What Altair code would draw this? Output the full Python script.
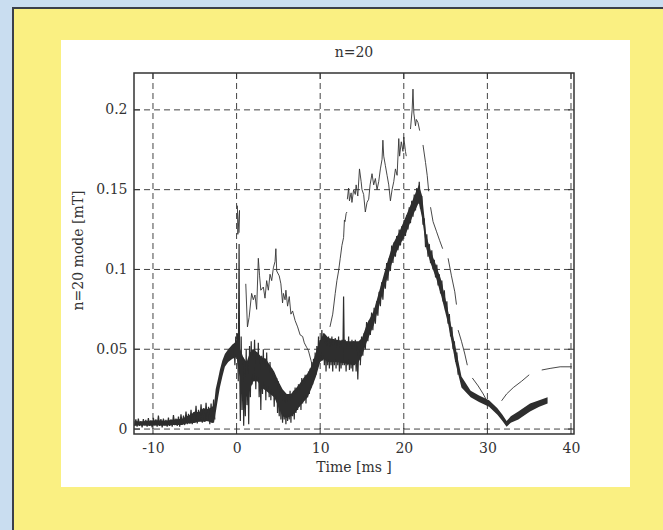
import altair as alt
import pandas as pd

W, H = 440, 361
XMIN, XMAX = -12.27, 40.36
YMIN, YMAX = -0.0031, 0.2231
FONT = "DejaVu Serif"
FS = 14
INK = "#333333"

# ---- heavy (thick) trace: envelope of the noisy band ----
band_x = [-12.2, -11.5, -10.5, -9.5, -8.5, -7.5, -6.5, -6.0, -5.5, -5.0, -4.5, -4.0, -3.5, -3.0, -2.7,
          -2.5, -2.2, -2.0, -1.7, -1.4, -1.0, -0.5, 0.0, 0.3, 0.8, 1.2, 1.6, 2.0, 2.5, 3.0, 3.5, 4.0,
          4.5, 5.0, 5.5, 6.0, 6.5, 7.0, 7.5, 8.0, 8.5, 9.0, 9.5, 10.0, 10.5, 11.0, 12.0, 13.0, 14.0,
          14.6, 15.0, 15.6, 16.4, 17.2, 18.0, 18.7, 19.5, 20.3, 21.1, 21.8, 22.2, 22.7, 23.2, 23.9,
          24.5, 25.3, 26.2, 26.9, 28.0, 29.0, 30.2, 31.2, 31.8, 32.3, 32.8, 33.7, 35.1, 36.2, 37.2]
band_lo = [0.0020, 0.0022, 0.0020, 0.0022, 0.0020, 0.0025, 0.0025, 0.0035, 0.0035, 0.0040, 0.0045, 0.0045, 0.0050, 0.0040, 0.0040,
           0.0100, 0.0200, 0.0260, 0.0330, 0.0390, 0.0420, 0.0440, 0.0450, 0.0350, 0.0250, 0.0200, 0.0250, 0.0300, 0.0300, 0.0260, 0.0240, 0.0220,
           0.0200, 0.0140, 0.0080, 0.0070, 0.0080, 0.0100, 0.0140, 0.0170, 0.0200, 0.0260, 0.0330, 0.0420, 0.0440, 0.0420, 0.0420, 0.0410, 0.0400,
           0.0420, 0.0460, 0.0550, 0.0650, 0.0800, 0.0940, 0.1060, 0.1150, 0.1230, 0.1340, 0.1420, 0.1320, 0.1130, 0.1040, 0.0940,
           0.0830, 0.0660, 0.0410, 0.0260, 0.0200, 0.0170, 0.0140, 0.0090, 0.0050, 0.0015, 0.0040, 0.0060, 0.0110, 0.0140, 0.0160]
band_hi = [0.0050, 0.0048, 0.0052, 0.0055, 0.0052, 0.0060, 0.0065, 0.0080, 0.0090, 0.0110, 0.0105, 0.0130, 0.0125, 0.0135, 0.0150,
           0.0250, 0.0320, 0.0370, 0.0430, 0.0470, 0.0500, 0.0530, 0.0550, 0.0520, 0.0450, 0.0420, 0.0480, 0.0500, 0.0480, 0.0450, 0.0440, 0.0400,
           0.0360, 0.0300, 0.0250, 0.0220, 0.0220, 0.0250, 0.0280, 0.0320, 0.0350, 0.0400, 0.0480, 0.0560, 0.0600, 0.0570, 0.0560, 0.0550, 0.0550,
           0.0550, 0.0570, 0.0660, 0.0740, 0.0890, 0.1040, 0.1160, 0.1240, 0.1340, 0.1440, 0.1530, 0.1460, 0.1210, 0.1120, 0.1020,
           0.0930, 0.0740, 0.0510, 0.0330, 0.0240, 0.0210, 0.0180, 0.0130, 0.0090, 0.0050, 0.0080, 0.0110, 0.0160, 0.0180, 0.0200]

# ---- heavy trace: low-level noise before the rise, read point by point ----
lead_x = [-12.2, -12.05, -11.9, -11.75, -11.6, -11.45, -11.3, -11.15, -11.0, -10.85, -10.7, -10.55, -10.4, -10.25,
          -10.1, -9.95, -9.8, -9.65, -9.5, -9.35, -9.2, -9.05, -8.9, -8.75, -8.6, -8.45, -8.3, -8.15, -8.0, -7.85,
          -7.7, -7.55, -7.4, -7.25, -7.1, -6.95, -6.8, -6.65, -6.5, -6.35, -6.2, -6.05, -5.9, -5.75, -5.6, -5.45,
          -5.3, -5.15, -5.0, -4.85, -4.7, -4.55, -4.4, -4.25, -4.1, -3.95, -3.8, -3.65, -3.5, -3.35, -3.2, -3.05,
          -2.9, -2.75, -2.6]
lead_y = [0.0020, 0.0060, 0.0015, 0.0065, 0.0020, 0.0050, 0.0010, 0.0062, 0.0025, 0.0058, 0.0015, 0.0068, 0.0020, 0.0055,
          0.0010, 0.0070, 0.0025, 0.0060, 0.0015, 0.0085, 0.0020, 0.0062, 0.0010, 0.0066, 0.0025, 0.0058, 0.0015, 0.0072, 0.0020, 0.0060,
          0.0015, 0.0088, 0.0025, 0.0065, 0.0020, 0.0078, 0.0015, 0.0092, 0.0030, 0.0085, 0.0025, 0.0110, 0.0030, 0.0095, 0.0035, 0.0120,
          0.0030, 0.0105, 0.0040, 0.0145, 0.0035, 0.0120, 0.0050, 0.0155, 0.0040, 0.0130, 0.0045, 0.0165, 0.0050, 0.0140, 0.0030, 0.0160,
          0.0040, 0.0185, 0.0060]

# ---- heavy trace: the spiky, noisy stretch read point by point ----
zig_x = [-0.3, -0.2, -0.1, 0.0, 0.1, 0.2, 0.3, 0.35, 0.45, 0.55, 0.65, 0.75, 0.85, 0.95, 1.05, 1.15, 1.25, 1.35,
         1.45, 1.55, 1.65, 1.75, 1.85, 1.95, 2.05, 2.15, 2.3, 2.4, 2.5, 2.6, 2.7, 2.8, 2.9, 3.0, 3.1, 3.2, 3.3,
         3.4, 3.5, 3.6, 3.7, 3.8, 3.9, 4.0, 4.1, 4.2, 4.3, 4.4, 4.5, 4.6, 4.7, 4.8, 4.9, 5.0, 5.1, 5.2, 5.3,
         5.4, 5.5, 5.6, 5.7, 5.8, 5.9, 6.0, 6.1, 6.2, 6.3, 6.4, 6.5, 6.6, 6.7, 6.8, 6.9, 7.0, 7.1, 7.2, 7.3,
         7.4, 7.5, 7.6, 7.7, 7.8, 7.9, 8.0, 8.1, 8.2, 8.3, 8.4, 8.5, 8.6, 8.7, 8.8, 8.9, 9.0, 9.1, 9.2, 9.3,
         9.4, 9.5, 9.6, 9.7, 9.8, 9.9, 10.0, 10.1, 10.2, 10.3, 10.4, 10.5, 10.6, 10.7, 10.8, 10.9, 11.0, 11.1,
         11.2, 11.3, 11.4, 11.5, 11.6, 11.7, 11.8, 11.9, 12.0, 12.1, 12.2, 12.3, 12.4, 12.5, 12.6, 12.7, 12.8,
         12.9, 13.0, 13.1, 13.2, 13.3, 13.4, 13.5, 13.6, 13.7, 13.8, 13.9, 14.0, 14.1, 14.2, 14.3, 14.4, 14.5,
         14.6, 14.8]
zig_y = [0.052, 0.040, 0.058, 0.045, 0.060, 0.030, 0.116, 0.050, 0.005, 0.058, 0.012, 0.045, 0.002, 0.035, 0.008, 0.050, 0.015, 0.040,
         0.003, 0.052, 0.020, 0.055, 0.028, 0.050, 0.030, 0.056, 0.025, 0.048, 0.030, 0.054, 0.020, 0.045, 0.012, 0.046, 0.022, 0.050, 0.025,
         0.044, 0.018, 0.048, 0.024, 0.040, 0.020, 0.042, 0.018, 0.038, 0.022, 0.036, 0.014, 0.033, 0.020, 0.032, 0.010, 0.030, 0.008, 0.026, 0.006,
         0.024, 0.004, 0.022, 0.006, 0.020, 0.003, 0.022, 0.005, 0.020, 0.006, 0.024, 0.004, 0.022, 0.008, 0.024, 0.006, 0.026, 0.010, 0.025, 0.012,
         0.028, 0.014, 0.027, 0.012, 0.032, 0.016, 0.030, 0.018, 0.034, 0.016, 0.033, 0.020, 0.036, 0.022, 0.038, 0.026, 0.042, 0.028, 0.044, 0.032,
         0.048, 0.034, 0.052, 0.040, 0.058, 0.042, 0.056, 0.044, 0.062, 0.043, 0.060, 0.040, 0.058, 0.036, 0.056, 0.040, 0.058, 0.038,
         0.054, 0.040, 0.058, 0.036, 0.056, 0.040, 0.057, 0.038, 0.055, 0.040, 0.058, 0.036, 0.055, 0.038, 0.056, 0.040, 0.083,
         0.040, 0.056, 0.036, 0.055, 0.040, 0.058, 0.037, 0.054, 0.038, 0.056, 0.036, 0.055, 0.040, 0.056, 0.036, 0.052, 0.031,
         0.050, 0.045]

# ---- heavy trace: ragged edges of the ramp up to the peak and down again ----
ramp_x = [14.8, 14.95, 15.1, 15.25, 15.4, 15.55, 15.7, 15.85, 16.0, 16.15, 16.3, 16.45, 16.6, 16.75, 16.9, 17.05,
          17.2, 17.35, 17.5, 17.65, 17.8, 17.95, 18.1, 18.25, 18.4, 18.55, 18.7, 18.85, 19.0, 19.15, 19.3, 19.45,
          19.6, 19.75, 19.9, 20.05, 20.2, 20.35, 20.5, 20.65, 20.8, 20.95, 21.1, 21.25, 21.4, 21.55, 21.7, 21.85,
          22.0, 22.15, 22.3, 22.45, 22.6, 22.75, 22.9, 23.05, 23.2, 23.35, 23.5, 23.65, 23.8, 23.95, 24.1, 24.25,
          24.4, 24.55, 24.7, 24.85, 25.0, 25.15, 25.3, 25.45, 25.6, 25.75, 25.9, 26.05, 26.2, 26.35, 26.5]
ramp_y = [0.040, 0.058, 0.046, 0.060, 0.050, 0.067, 0.055, 0.068, 0.059, 0.073, 0.062, 0.076, 0.066, 0.080, 0.071, 0.086,
          0.077, 0.092, 0.081, 0.095, 0.088, 0.104, 0.093, 0.107, 0.099, 0.115, 0.104, 0.117, 0.108, 0.121, 0.112, 0.125,
          0.115, 0.127, 0.118, 0.131, 0.121, 0.134, 0.125, 0.139, 0.129, 0.143, 0.133, 0.147, 0.137, 0.151, 0.141, 0.155,
          0.138, 0.146, 0.128, 0.132, 0.114, 0.122, 0.108, 0.116, 0.104, 0.112, 0.100, 0.106, 0.095, 0.103, 0.090, 0.097,
          0.085, 0.093, 0.080, 0.087, 0.074, 0.080, 0.066, 0.072, 0.058, 0.064, 0.050, 0.055, 0.042, 0.048, 0.034]

# ---- light (thin, broken) trace: one list per unbroken piece ----
thin_x_parts = [
    [0.10, 0.15, 0.35, 0.30],
    [1.10, 1.30, 1.50, 1.80, 2.00, 2.20, 2.40, 2.60, 2.75, 2.90, 3.20, 3.40, 3.60, 3.80, 4.00, 4.20, 4.40, 4.60, 4.70, 4.80, 5.10,
     5.30, 5.50, 5.60, 5.80, 5.90, 6.10, 6.30, 6.50, 6.70, 7.00, 7.30, 7.60, 7.90, 8.10, 8.40, 8.60, 8.90, 9.05],
    [11.17, 11.50, 11.80, 12.00, 12.20, 12.40, 12.60, 12.80, 12.90, 12.97, 13.10, 13.20],
    [13.25, 13.40, 13.50, 13.70, 13.80, 14.00, 14.20, 14.30, 14.50, 14.70, 14.90, 15.00, 15.20, 15.40, 15.60, 15.80, 15.97, 16.20,
     16.40, 16.60, 16.80, 17.00, 17.20, 17.40, 17.50, 17.60, 17.80, 18.00, 18.20, 18.40, 18.60, 18.80, 19.00, 19.20, 19.40, 19.50,
     19.70, 19.90, 20.00, 20.20, 20.30],
    [20.80, 21.00, 21.10, 21.20, 21.40, 21.50, 21.70, 21.90],
    [22.30, 22.60, 22.80, 22.98],
    [23.20, 23.50, 23.90, 24.30, 24.65],
    [25.30, 25.70, 26.10, 26.30],
    [26.50, 26.90, 27.30, 27.60],
    [28.20, 28.90, 29.50, 29.90],
    [31.70, 32.30, 33.10, 34.10, 35.00],
    [36.50, 37.50, 38.70, 40.10],
]
thin_y_parts = [
    [0.140, 0.122, 0.137, 0.123],
    [0.091, 0.064, 0.070, 0.085, 0.081, 0.084, 0.075, 0.107, 0.096, 0.087, 0.089, 0.082, 0.093, 0.087, 0.097, 0.093, 0.101, 0.105, 0.113, 0.099, 0.096,
     0.091, 0.079, 0.085, 0.081, 0.087, 0.077, 0.083, 0.072, 0.074, 0.068, 0.064, 0.059, 0.058, 0.054, 0.051, 0.049, 0.043, 0.040],
    [0.064, 0.072, 0.085, 0.093, 0.099, 0.107, 0.115, 0.120, 0.131, 0.130, 0.135, 0.136],
    [0.144, 0.151, 0.143, 0.148, 0.142, 0.150, 0.147, 0.153, 0.146, 0.163, 0.155, 0.150, 0.147, 0.136, 0.142, 0.144, 0.153, 0.160,
     0.153, 0.157, 0.150, 0.155, 0.163, 0.169, 0.181, 0.171, 0.165, 0.159, 0.153, 0.143, 0.150, 0.155, 0.163, 0.159, 0.182, 0.171,
     0.180, 0.174, 0.183, 0.174, 0.171],
    [0.188, 0.200, 0.213, 0.198, 0.190, 0.194, 0.192, 0.187],
    [0.178, 0.167, 0.159, 0.149],
    [0.139, 0.130, 0.124, 0.118, 0.113],
    [0.107, 0.096, 0.086, 0.078],
    [0.062, 0.055, 0.047, 0.040],
    [0.032, 0.027, 0.022, 0.018],
    [0.0177, 0.022, 0.026, 0.030, 0.034],
    [0.037, 0.038, 0.039, 0.039],
]

x_ticks = [-10, 0, 10, 20, 30, 40]
y_ticks = [0, 0.05, 0.1, 0.15, 0.2]

band_df = pd.DataFrame({"x": band_x, "lo": band_lo, "hi": band_hi})
noise_df = pd.concat([
    pd.DataFrame({"x": lead_x, "y": lead_y, "part": "lead"}),
    pd.DataFrame({"x": zig_x, "y": zig_y, "part": "zig"}),
    pd.DataFrame({"x": ramp_x, "y": ramp_y, "part": "ramp"}),
], ignore_index=True)
noise_df["i"] = range(len(noise_df))
rows = []
for s, (px, py) in enumerate(zip(thin_x_parts, thin_y_parts)):
    for k, (a, b) in enumerate(zip(px, py)):
        rows.append({"seg": s, "i": k, "x": a, "y": b})
thin_df = pd.DataFrame(rows)
xt_df = pd.DataFrame({"v": x_ticks})
yt_df = pd.DataFrame({"v": y_ticks})
one = pd.DataFrame({"d": [0]})

xs = alt.Scale(domain=[XMIN, XMAX], nice=False, zero=False)
ys = alt.Scale(domain=[YMIN, YMAX], nice=False, zero=False)

xaxis = alt.Axis(values=x_ticks, grid=False, ticks=False, domain=False, title=None,
                 labelExpr="datum.value + ''",
                 labelFont=FONT, labelFontSize=FS, labelColor=INK, labelPadding=7, zindex=1)
yaxis = alt.Axis(values=y_ticks, grid=False, ticks=False, domain=False, title=None,
                 labelExpr="datum.value + ''",
                 labelFont=FONT, labelFontSize=FS, labelColor=INK, labelPadding=7, zindex=1)


def X(f):
    return alt.X(f, scale=xs, axis=xaxis, title=None)


def Y(f):
    return alt.Y(f, scale=ys, axis=yaxis, title=None)


# page decoration
border = alt.Chart(one).mark_rect(color="#3A3F4A").encode(
    x=alt.value(-122), x2=alt.value(560), y=alt.value(-66), y2=alt.value(480))
yellow = alt.Chart(one).mark_rect(color="#FAF082").encode(
    x=alt.value(-120), x2=alt.value(560), y=alt.value(-64), y2=alt.value(480))
white = alt.Chart(one).mark_rect(color="#FFFFFF").encode(
    x=alt.value(-73), x2=alt.value(496), y=alt.value(-33), y2=alt.value(414))

# dashed grid
gx = alt.Chart(xt_df).mark_rule(color="#444444", strokeDash=[6, 4], strokeWidth=1).encode(
    x=X("v:Q"), y=alt.value(0), y2=alt.value(H))
gy = alt.Chart(yt_df).mark_rule(color="#444444", strokeDash=[6, 4], strokeWidth=1).encode(
    y=Y("v:Q"), x=alt.value(0), x2=alt.value(W))

# inward ticks on all four sides
tb = alt.Chart(xt_df).mark_rule(color=INK, strokeWidth=1).encode(
    x=X("v:Q"), y=alt.value(H), y2=alt.value(H - 6))
tt = alt.Chart(xt_df).mark_rule(color=INK, strokeWidth=1).encode(
    x=X("v:Q"), y=alt.value(0), y2=alt.value(6))
tl = alt.Chart(yt_df).mark_rule(color=INK, strokeWidth=1).encode(
    y=Y("v:Q"), x=alt.value(0), x2=alt.value(6))
tr = alt.Chart(yt_df).mark_rule(color=INK, strokeWidth=1).encode(
    y=Y("v:Q"), x=alt.value(W), x2=alt.value(W - 6))

band = alt.Chart(band_df).mark_area(color="#2E2E2E", opacity=1, clip=True).encode(
    x=X("x:Q"), y=Y("lo:Q"), y2="hi:Q")
noise = alt.Chart(noise_df).mark_line(color="#2E2E2E", strokeWidth=1.2, clip=True).encode(
    x=X("x:Q"), y=Y("y:Q"), detail="part:N", order="i:Q")
thin = alt.Chart(thin_df).mark_line(color=INK, strokeWidth=0.9, clip=True).encode(
    x=X("x:Q"), y=Y("y:Q"), detail="seg:N", order="i:Q")

frame = alt.Chart(one).mark_rect(filled=False, stroke=INK, strokeWidth=1.5).encode(
    x=alt.value(0), x2=alt.value(W), y=alt.value(0), y2=alt.value(H))

title = alt.Chart(one).mark_text(text="n=20", font=FONT, fontSize=FS, color=INK,
                                 align="center", baseline="middle").encode(
    x=alt.value(W / 2), y=alt.value(-20))
xtitle = alt.Chart(one).mark_text(text="Time [ms ]", font=FONT, fontSize=FS, color=INK,
                                  align="center", baseline="middle").encode(
    x=alt.value(W / 2), y=alt.value(H + 34))
ytitle = alt.Chart(one).mark_text(text="n=20 mode [mT]", font=FONT, fontSize=FS, color=INK,
                                  align="center", baseline="middle", angle=270).encode(
    x=alt.value(-55), y=alt.value(H / 2 - 3))

chart = alt.layer(
    border, yellow, white, gx, gy, band, noise, thin, tb, tt, tl, tr, frame, title, xtitle, ytitle
).properties(
    width=W, height=H, autosize="none",
    padding={"left": 134, "top": 73, "right": 89, "bottom": 96},
    background="#C9DDF0",
).configure_view(strokeWidth=0)

chart.save("out.html", embed_options={"renderer": "svg", "actions": False})
